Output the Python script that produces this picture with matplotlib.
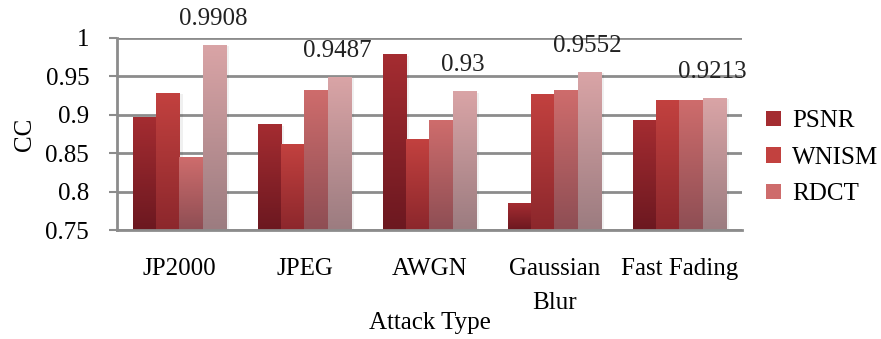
import numpy as np
import matplotlib
matplotlib.use("Agg")
import matplotlib.pyplot as plt
from matplotlib.colors import LinearSegmentedColormap
from matplotlib.patches import Patch

plt.rcParams['font.family'] = ['Liberation Serif', 'DejaVu Serif']

categories = ['JP2000', 'JPEG', 'AWGN', 'Gaussian\nBlur', 'Fast Fading']
psnr = [0.897, 0.887, 0.978, 0.785, 0.892]
wnism = [0.928, 0.861, 0.868, 0.926, 0.918]
rdct = [0.845, 0.931, 0.892, 0.931, 0.918]
proposed = [0.9908, 0.9487, 0.93, 0.9552, 0.9213]
proposed_labels = ['0.9908', '0.9487', '0.93', '0.9552', '0.9213']

series = [psnr, wnism, rdct, proposed]
names = ['PSNR', 'WNISM', 'RDCT', None]
# (top colour, bottom colour) for each series gradient
grads = [('#a42c31', '#6c1820'),
         ('#c2413f', '#8c272c'),
         ('#ce6c6c', '#8e4e54'),
         ('#d9a4a6', '#9c7c80')]

FS = 18

fig = plt.figure(figsize=(8.81, 3.39), dpi=100)
ax = fig.add_axes([0.1328, 0.3215, 0.7094, 0.5665])

ymin, ymax = 0.75, 1.0
x = np.arange(len(categories))
w = 0.185
offsets = (np.arange(4) - 1.5) * w

for vals, off, (top, bot) in zip(series, offsets, grads):
    bars = ax.bar(x + off, np.array(vals) - ymin, w, bottom=ymin,
                  color=top, zorder=2, linewidth=0)
    cmap = LinearSegmentedColormap.from_list('g', [bot, top])
    grad = np.linspace(0, 1, 64).reshape(-1, 1)
    for b in bars:
        x0, y0 = b.get_x(), b.get_y()
        # soft shadow to the right of each bar
        ax.fill_between([x0 + 0.02, x0 + b.get_width() + 0.025], y0,
                        y0 + b.get_height() - 0.001, color='#000000',
                        alpha=0.06, zorder=1.9, linewidth=0)
        ax.imshow(grad, cmap=cmap, origin='lower', aspect='auto',
                  extent=[x0, x0 + b.get_width(), y0, y0 + b.get_height()],
                  zorder=2.1)

# value labels above the last series
for xi, v, lab in zip(x + offsets[3], proposed, proposed_labels):
    ax.annotate(lab, (xi, v), xytext=(-1, 11), textcoords='offset points',
                ha='center', va='bottom', fontsize=FS, color='#222222')

ax.set_xlim(-0.5, len(categories) - 0.5)
ax.set_ylim(ymin, ymax)
ax.set_yticks(np.arange(0.75, 1.0001, 0.05))
ax.set_yticklabels(['0.75', '0.8', '0.85', '0.9', '0.95', '1'])
ax.set_xticks(x)
ax.set_xticklabels(categories)
ax.tick_params(axis='y', direction='out', length=6, width=1.5, color='#8c8c8c',
               labelsize=FS, pad=14)
ax.tick_params(axis='x', length=0, labelsize=FS, pad=20)
for lab in ax.get_xticklabels():
    lab.set_linespacing(1.72)

ax.yaxis.grid(True, color='#8c8c8c', linewidth=2, zorder=0)
ax.set_axisbelow(True)
for s in ['top', 'right']:
    ax.spines[s].set_visible(False)
for s in ['left', 'bottom']:
    ax.spines[s].set_color('#8c8c8c')
    ax.spines[s].set_linewidth(2)

ax.set_ylabel('CC', fontsize=FS, labelpad=7)
xl = ax.set_xlabel('Attack Type', fontsize=FS)
xl.set_va('center')
ax.xaxis.set_label_coords(0.5, -0.485)

handles = [Patch(facecolor=c[0], edgecolor='none') for c in grads[:3]]
fig.legend(handles, names[:3], loc='upper left', bbox_to_anchor=(0.858, 0.704),
           frameon=False, fontsize=FS, handlelength=0.6, handleheight=0.6,
           handletextpad=0.45, labelspacing=0.58, borderaxespad=0)

fig.savefig('out.png', dpi=100)
